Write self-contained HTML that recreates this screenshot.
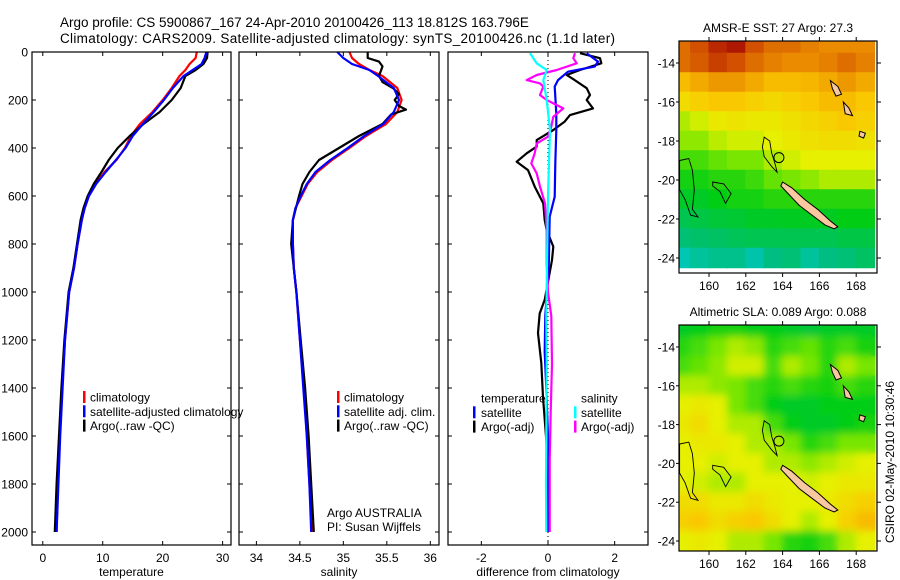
<!DOCTYPE html>
<html><head><meta charset="utf-8"><style>
html,body{margin:0;padding:0;background:#fff;width:900px;height:580px;overflow:hidden}
svg{display:block;font-family:"Liberation Sans",Arial,sans-serif}
</style></head><body>
<svg id="fig" width="900" height="580" viewBox="0 0 900 580" xmlns="http://www.w3.org/2000/svg">
<text x="60" y="27" font-size="13.5">Argo profile: CS 5900867_167 24-Apr-2010 20100426_113 18.812S 163.796E</text>
<text x="60" y="43" font-size="13.5" textLength="555">Climatology: CARS2009. Satellite-adjusted climatology: synTS_20100426.nc (1.1d later)</text>
<g id="g"></g>
</svg>
<script>
// ---------- profile data ----------
const depthTicks=[0,200,400,600,800,1000,1200,1400,1600,1800,2000];
const tempTicks=[0,10,20,30];
const salTicks=[34,34.5,35,35.5,36];
const diffTicks=[-2,0,2];
const tClimDepth=[0,25,50,75,100,150,200,250,300,350,400,450,500,550,600,650,700,800,900,1000,1200,1400,1600,1800,2000];
const tClim=[25.7,25.5,24.5,23.8,22.8,21.5,20,18.3,16.2,14.7,13.7,12.3,10.3,8.8,7.7,7,6.5,5.8,5.2,4.4,3.7,3.2,2.8,2.5,2.3];
const tSat=[27.3,27,26.5,25,23.5,21.7,20.2,18.5,16.7,15,13.8,12.2,10.5,8.9,7.7,7,6.5,5.8,5.2,4.4,3.7,3.3,2.9,2.6,2.3];
const tArgo=[27.5,27.4,26.8,25.5,23.8,23,21.5,19.5,16.8,14.5,12.5,11,9.8,8.5,7.5,6.8,6.3,5.7,5.1,4.3,3.6,3.1,2.7,2.3,2.0];
const sDepth=[0,25,50,75,100,150,200,250,300,350,400,450,500,550,600,650,700,800,900,1000,1200,1400,1600,1800,2000];
const sClim=[35.07,35.1,35.18,35.3,35.45,35.62,35.67,35.62,35.49,35.26,35.07,34.87,34.7,34.59,34.52,34.45,34.42,34.42,34.43,34.46,34.5,34.55,34.58,34.61,34.64];
const sSat=[34.93,35.0,35.1,35.3,35.4,35.58,35.64,35.58,35.46,35.24,35.05,34.85,34.68,34.58,34.51,34.45,34.42,34.42,34.43,34.46,34.5,34.54,34.58,34.61,34.63];
const sArgoDepth=[0,25,40,60,100,125,150,175,200,225,240,260,300,350,400,450,500,550,600,700,800,1000,1200,1400,1600,1800,2000];
const sArgo=[35.28,35.28,35.41,35.45,35.41,35.45,35.57,35.64,35.59,35.64,35.72,35.55,35.45,35.18,34.95,34.72,34.61,34.53,34.49,34.42,34.4,34.46,34.51,34.56,34.6,34.63,34.66];
const dTSatDepth=[5,40,61,82,117,144,256,325,464,603,686,900,1100,1250,1400,1600,1800,2000];
const dTSat=[1.16,1.5,1.4,0.6,0.3,0.2,0.25,0.25,0.22,0.2,0.05,0.02,-0.08,-0.1,-0.05,0,0,0];
const dTArgoDepth=[5,26,47,75,96,117,151,179,200,235,263,290,325,367,394,422,457,492,561,631,700,742,811,867,1033,1089,1171,1296,1437,1617,1800,2000];
const dTArgo=[0.96,1.56,1.6,0.96,0.56,0.8,1.16,1.26,1.16,1.35,0.66,0.5,0.16,-0.34,-0.34,-0.64,-0.94,-0.6,-0.4,-0.14,-0.1,-0.04,0.16,0.12,-0.1,-0.25,-0.3,-0.2,-0.15,-0.05,0.02,0.02];
const dSArgoDepth=[5,26,47,75,96,117,131,144,179,200,235,270,311,353,381,422,464,506,561,631,742,881,1000,1100,1300,1500,1700,2000];
const dSArgo=[0.81,0.76,0.86,0.26,-0.34,-0.64,-0.24,-0.14,-0.24,-0.04,0.46,0.16,0.1,0.0,-0.34,-0.4,-0.5,-0.34,-0.24,-0.09,-0.04,-0.04,0.0,0.1,0.12,0.08,0.05,0.05];
const dSSatDepth=[5,47,75,117,200,325,600,881,1100,1300,1600,1800,2000];
const dSSat=[-0.54,-0.34,-0.04,-0.14,-0.04,0.06,0.0,-0.03,-0.05,-0.04,-0.05,-0.06,-0.05];
// ---------- map data (rows lat -13..-24, cols lon 158.5..168.5), normalised colour value ----------
const mapLats=[-13,-14,-15,-16,-17,-18,-19,-20,-21,-22,-23,-24];
const mapLons=[158.5,159.5,160.5,161.5,162.5,163.5,164.5,165.5,166.5,167.5,168.5];
const sstGrid=[
[.85,.9,.95,.97,.9,.85,.85,.82,.8,.8,.8],
[.85,.88,.92,.9,.85,.82,.8,.8,.82,.85,.82],
[.72,.75,.78,.78,.75,.72,.72,.73,.75,.78,.75],
[.65,.68,.7,.7,.68,.66,.68,.7,.72,.72,.7],
[.55,.58,.62,.63,.62,.62,.64,.66,.68,.7,.68],
[.52,.52,.56,.58,.58,.6,.62,.64,.65,.65,.64],
[.45,.45,.48,.5,.5,.55,.58,.6,.6,.6,.6],
[.4,.4,.42,.42,.44,.48,.5,.52,.55,.55,.55],
[.35,.35,.38,.4,.4,.42,.42,.42,.42,.42,.42],
[.28,.3,.32,.33,.35,.35,.36,.36,.36,.38,.38],
[.22,.24,.25,.27,.28,.28,.28,.28,.28,.3,.3],
[.1,.15,.18,.18,.12,.2,.22,.15,.2,.22,.25]];
const slaGrid=[
[.35,.38,.4,.4,.38,.38,.35,.32,.35,.35,.35],
[.42,.45,.5,.55,.52,.42,.45,.48,.42,.45,.4],
[.45,.48,.52,.58,.58,.45,.55,.5,.42,.55,.5],
[.55,.55,.52,.5,.45,.42,.45,.42,.4,.45,.42],
[.6,.62,.6,.5,.45,.38,.35,.35,.38,.38,.38],
[.62,.65,.6,.55,.55,.45,.38,.35,.35,.38,.4],
[.6,.62,.62,.6,.55,.55,.5,.42,.45,.5,.5],
[.6,.6,.58,.6,.6,.55,.55,.52,.55,.58,.6],
[.6,.58,.55,.55,.6,.6,.6,.58,.6,.62,.62],
[.65,.65,.62,.62,.65,.62,.6,.6,.62,.65,.68],
[.68,.7,.65,.68,.7,.65,.6,.55,.6,.68,.72],
[.6,.62,.6,.55,.55,.5,.42,.4,.45,.55,.6]];
const lonTicks=[160,162,164,166,168];
const latTicks=[-14,-16,-18,-20,-22,-24];
const newCal=[[164.0,-20.1],[164.5,-20.4],[165.2,-21.0],[165.9,-21.5],[166.6,-22.1],[167.0,-22.4],[166.8,-22.5],[166.3,-22.3],[165.6,-21.8],[164.9,-21.3],[164.3,-20.7],[163.9,-20.3]];
const santo=[[166.6,-14.9],[167.0,-15.2],[167.2,-15.6],[166.9,-15.7],[166.7,-15.3]];
const malekula=[[167.3,-16.0],[167.6,-16.3],[167.8,-16.7],[167.4,-16.6]];
const efate=[[168.2,-17.5],[168.5,-17.6],[168.4,-17.85],[168.15,-17.75]];
const reef1=[[158.4,-19.0],[158.9,-18.9],[159.1,-19.5],[159.2,-20.5],[159.1,-21.5],[159.4,-21.9],[159.0,-21.8],[158.7,-21.0],[158.4,-20.5]];
const reef2=[[163.0,-17.8],[163.3,-18.0],[163.4,-18.6],[163.6,-19.2],[163.7,-19.6],[163.4,-19.3],[163.0,-18.8],[162.9,-18.3]];
const reef3=[[160.2,-20.1],[160.8,-20.2],[161.2,-20.7],[160.9,-21.2],[160.6,-20.6],[160.2,-20.3]];

const NS="http://www.w3.org/2000/svg";
const G=document.getElementById('g');
function el(tag,attrs,parent){const e=document.createElementNS(NS,tag);for(const k in attrs)e.setAttribute(k,attrs[k]);(parent||G).appendChild(e);return e;}
function txt(s,x,y,size,anchor,parent){const t=el('text',{x:x,y:y,'font-size':size,'text-anchor':anchor||'start'},parent);t.textContent=s;return t;}

const TOP=52,BOT=545,D0=52,DPX=0.24;
const yD=d=>D0+d*DPX;
function panel(name,x0,x1,vmin,vmax,xticks,fmt,xlabel,showY){
  const g=el('g',{});
  
  
  const sx=v=>x0+(v-vmin)/(vmax-vmin)*(x1-x0);
  xticks.forEach(v=>{const x=sx(v);
    el('line',{x1:x,x2:x,y1:TOP,y2:TOP+4,stroke:'#000'},g);
    el('line',{x1:x,x2:x,y1:BOT,y2:BOT-4,stroke:'#000'},g);
    const t=txt(fmt(v),x,562,12,'middle',g);
    
    
  });
  depthTicks.forEach(d=>{const y=yD(d);
    el('line',{x1:x0,x2:x0+4,y1:y,y2:y,stroke:'#000'},g);
    el('line',{x1:x1,x2:x1-4,y1:y,y2:y,stroke:'#000'},g);
    if(showY){const t=txt(String(d),28,y+4.5,12,'end',g);
      
      }
  });
  const lt=txt(xlabel,(x0+x1)/2,576,12,'middle',g);
  
  
  return {g,sx};
}
function series(p,name,depths,vals,color,w){
  const pts=depths.map((d,i)=>p.sx(vals[i]).toFixed(1)+','+yD(d).toFixed(1)).join(' ');
  const l=el('polyline',{points:pts,fill:'none',stroke:color,'stroke-width':w||2.2,'stroke-linejoin':'round'},p.g);
  
  
}
function legend(p,entries,xm,xt,y0,prefix){
  entries.forEach((e,i)=>{const y=y0+i*14.3;
    if(e[1]){el('rect',{x:xm,y:y-6,width:2.5,height:12,fill:e[1]},p.g);}
    const t=txt(e[0],xt,y+4.5,12,'start',p.g);
    
    
  });
}
function frame(p,x0,x1){el('rect',{x:x0,y:TOP,width:x1-x0,height:BOT-TOP,fill:'none',stroke:'#000','stroke-width':1.2},p.g);}

const pT=panel('temperature',32,231,-1.8,31.4,tempTicks,v=>String(v),'temperature',true);
series(pT,'temperature-climatology-line',tClimDepth,tClim,'#f00');
series(pT,'temperature-argo-line',tClimDepth,tArgo,'#000');
series(pT,'temperature-satellite-line',tClimDepth,tSat,'#00f');
legend(pT,[['climatology','#f00'],['satellite-adjusted climatology','#00f'],['Argo(..raw -QC)','#000']],83,90,397,'temperature');
frame(pT,32,231);

const pS=panel('salinity',239,439,33.8,36.1,salTicks,v=>String(v),'salinity',false);
series(pS,'salinity-climatology-line',sDepth,sClim,'#f00');
series(pS,'salinity-argo-line',sArgoDepth,sArgo,'#000');
series(pS,'salinity-satellite-line',sDepth,sSat,'#00f');
legend(pS,[['climatology','#f00'],['satellite adj. clim.','#00f'],['Argo(..raw -QC)','#000']],337,344,397,'salinity');
let a1=txt('Argo AUSTRALIA',327,517,12,'start',pS.g);


let a2=txt('PI: Susan Wijffels',327,531,12,'start',pS.g);


frame(pS,239,439);

const pD=panel('difference',448,648,-3,3,diffTicks,v=>String(v),'difference from climatology',false);
el('line',{x1:pD.sx(0),x2:pD.sx(0),y1:TOP,y2:BOT,stroke:'#000','stroke-dasharray':'1,3'},pD.g);
series(pD,'temp-argo-diff-line',dTArgoDepth,dTArgo,'#000');
series(pD,'temp-satellite-diff-line',dTSatDepth,dTSat,'#00f');
series(pD,'sal-argo-diff-line',dSArgoDepth,dSArgo,'#f0f');
series(pD,'sal-satellite-diff-line',dSSatDepth,dSSat,'#0ff');
legend(pD,[['temperature',null],['satellite','#00f'],['Argo(-adj)','#000']],473,481,398,'difference-temp');
legend(pD,[['salinity',null],['satellite','#0ff'],['Argo(-adj)','#f0f']],574,581,398,'difference-sal');
frame(pD,448,648);

function cmap(t){
  const st=[[0,[0,205,230]],[0.2,[0,190,130]],[0.38,[0,205,20]],[0.5,[120,230,0]],[0.6,[230,240,0]],[0.7,[250,200,0]],[0.8,[235,140,0]],[0.9,[210,80,0]],[1,[160,0,0]]];
  t=Math.max(0,Math.min(1,t));
  for(let i=1;i<st.length;i++){if(t<=st[i][0]){const a=st[i-1],b=st[i],f=(t-a[0])/(b[0]-a[0]);
    return 'rgb('+[0,1,2].map(k=>Math.round(a[1][k]+(b[1][k]-a[1][k])*f)).join(',')+')';}}
  return 'rgb(160,0,0)';
}
function map(name,y0,y1,latY14,latY24,grid,title,smooth){
  const x0=679,x1=877;
  const sx=lon=>709+(lon-160)*18.4;
  const dy=(latY24-latY14)/10;
  const sy=lat=>latY14+(-14-lat)*dy;
  const g=el('g',{});
  
  
  const cid='clip'+name;
  const cp=el('clipPath',{id:cid},g);el('rect',{x:x0,y:y0,width:x1-x0,height:y1-y0},cp);
  const inner=el('g',{'clip-path':'url(#'+cid+')'},g);
  const layers=smooth?[el('g',{},inner),el('g',{filter:'url(#blur)'},inner)]:[el('g',{},inner)];
  layers.forEach(cells=>{
    grid.forEach((row,r)=>row.forEach((v,c)=>{
      const lon=mapLons[c],lat=mapLats[r];
      const cx=sx(lon-0.5),cy=sy(lat+0.5);
      const rc=el('rect',{x:cx-0.5,y:cy-0.5,width:18.4+1,height:dy+1,fill:cmap(v)},cells);
      
      
    }));
  });
  const poly=(pts,fill,sw)=>el('polygon',{points:pts.map(p=>sx(p[0]).toFixed(1)+','+sy(p[1]).toFixed(1)).join(' '),fill:fill,stroke:'#000','stroke-width':sw||1},inner);
  [reef1,reef2,reef3].forEach(r=>poly(r,'none',0.9));
  el('circle',{cx:sx(163.8),cy:sy(-18.85),r:5,fill:'none',stroke:'#000','stroke-width':1},inner);
  [newCal,santo,malekula,efate].forEach(r=>{const p=poly(r,'#fac8a0',1);});
  el('rect',{x:x0,y:y0,width:x1-x0,height:y1-y0,fill:'none',stroke:'#000','stroke-width':1.2},g);
  lonTicks.forEach(l=>{const x=sx(l);
    el('line',{x1:x,x2:x,y1:y0,y2:y0-4,stroke:'#000'},g);
    el('line',{x1:x,x2:x,y1:y1,y2:y1+4,stroke:'#000'},g);
    const t=txt(String(l),x,y1+17,12,'middle',g);
    
    });
  latTicks.forEach(l=>{const y=sy(l);
    el('line',{x1:x1,x2:x1+4,y1:y,y2:y,stroke:'#000'},g);
    el('line',{x1:x0,x2:x0-3,y1:y,y2:y,stroke:'#000'},g);
    const t=txt(String(l),675,y+4.5,12,'end',g);
    
    });
  const tt=txt(title,778,y0-9,12,'middle',g);
  
  
}
const defs=el('defs',{});const f=el('filter',{id:'blur',x:'-5%',y:'-5%',width:'110%',height:'110%'},defs);el('feGaussianBlur',{stdDeviation:4},f);
map('sst-map',41,273,63,258,sstGrid,'AMSR-E SST: 27 Argo: 27.3',false);
map('sla-map',325,551,347,541,slaGrid,'Altimetric SLA: 0.089 Argo: 0.088',true);
const cs=txt('CSIRO 02-May-2010 10:30:46',0,0,12,'middle');
cs.setAttribute('transform','translate(894,462) rotate(-90)');


</script>
</body></html>
